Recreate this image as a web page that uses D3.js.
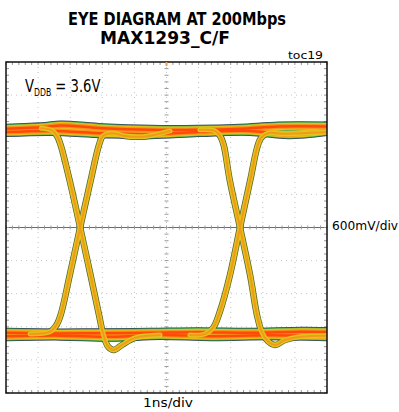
<!DOCTYPE html>
<html>
<head>
<meta charset="utf-8">
<script src="https://cdn.jsdelivr.net/npm/d3@7"></script>
<style>
  body { margin: 0; background: #fff; }
  svg { display: block; }
  .narrow { font-family: "Liberation Sans Narrow", "Arial Narrow", "DejaVu Sans Condensed", "Liberation Sans", sans-serif; }
</style>
</head>
<body>
<div id="chart"></div>
<script>
// time axis in ns, voltage axis in mV
const timeTicks = d3.range(0, 11);
const voltTicks = d3.range(-3000, 3001, 600);

// persistent traces: [ns, mV]
const highA = [[0, 1790], [1.2, 1820], [1.7, 1850], [3.0, 1800], [4.5, 1770], [6.0, 1770], [7.3, 1790], [8.5, 1830], [10, 1830]];
const highB = [[0, 1730], [1.4, 1750], [3.0, 1710], [4.5, 1690], [6.0, 1730], [7.6, 1750], [8.8, 1690], [10, 1750]];
const lowA = [[0, -1910], [1.7, -1920], [3.0, -1915], [4.5, -1910], [6.0, -1900], [7.6, -1910], [9.2, -1890], [10, -1895]];
const lowB = [[0, -1970], [1.7, -1960], [3.3, -1980], [4.8, -1950], [6.4, -1970], [8.2, -1955], [10, -1970]];

const fall1 = [[1.1, 1800], [1.43, 1760], [1.59, 1660], [1.7, 1500], [1.98, 860], [2.31, 0], [2.64, -880], [2.9, -1590], [3.02, -1910], [3.18, -2160], [3.36, -2220], [3.61, -2130], [4.02, -2000], [4.8, -1950]];
const rise1 = [[0.75, -1930], [1.37, -1890], [1.56, -1780], [1.7, -1590], [1.98, -880], [2.31, 0], [2.64, 860], [2.9, 1500], [3.02, 1660], [3.3, 1710], [3.71, 1660], [4.33, 1650], [5.11, 1750]];
const fall2 = [[6.04, 1770], [6.51, 1750], [6.67, 1660], [6.78, 1500], [6.97, 860], [7.29, 0], [7.61, -880], [7.82, -1590], [7.98, -1910], [8.16, -2060], [8.38, -2130], [8.69, -2040], [9.16, -1980], [10, -1960]];
const rise2 = [[5.73, -1950], [6.2, -1930], [6.45, -1820], [6.66, -1530], [6.97, -880], [7.29, 0], [7.61, 860], [7.82, 1440], [7.94, 1620], [8.16, 1710], [8.69, 1700], [10, 1730]];

const levelTraces = [highA, highB, lowA, lowB];
const edgeTraces = [fall1, rise1, fall2, rise2];

const width = 399, height = 412;
const frame = { left: 6, right: 327, top: 62, bottom: 393 };

const svg = d3.select("#chart").append("svg")
  .attr("width", width)
  .attr("height", height);

svg.append("defs").append("clipPath").attr("id", "plotClip")
  .append("rect")
  .attr("x", frame.left).attr("y", frame.top)
  .attr("width", frame.right - frame.left)
  .attr("height", frame.bottom - frame.top);

const x = d3.scaleLinear().domain([0, 10]).range([frame.left, frame.right]);
const y = d3.scaleLinear().domain([-3000, 3000]).range([frame.bottom, frame.top]);

// dotted graticule
const grid = svg.append("g").attr("class", "grid");
grid.selectAll(".vgrid")
  .data(timeTicks.slice(1, -1))
  .enter().append("line")
  .attr("x1", d => x(d)).attr("x2", d => x(d))
  .attr("y1", frame.top).attr("y2", frame.bottom)
  .style("stroke", "#c4c4c4")
  .style("stroke-dasharray", "1,4");
grid.selectAll(".hgrid")
  .data(voltTicks.slice(1, -1).filter(d => d !== 0))
  .enter().append("line")
  .attr("x1", frame.left).attr("x2", frame.right)
  .attr("y1", d => y(d)).attr("y2", d => y(d))
  .style("stroke", "#c4c4c4")
  .style("stroke-dasharray", "1,4");

// center line
grid.append("line")
  .attr("x1", frame.left).attr("x2", frame.right)
  .attr("y1", y(0)).attr("y2", y(0))
  .style("stroke", "#6b6b6b")
  .style("stroke-width", 1.2);

// minor ticks (5 per division)
const minorT = d3.range(0, 10.001, 0.2);
const minorV = d3.range(-3000, 3000.1, 120);
const ticks = svg.append("g").attr("class", "minor");
ticks.selectAll(".tv").data(minorV).enter().append("line")
  .attr("x1", x(5) - 2).attr("x2", x(5) + 2)
  .attr("y1", d => y(d)).attr("y2", d => y(d))
  .style("stroke", "#9a9a9a");
ticks.selectAll(".th").data(minorT).enter().append("line")
  .attr("x1", d => x(d)).attr("x2", d => x(d))
  .attr("y1", y(0) - 2).attr("y2", y(0) + 2)
  .style("stroke", "#9a9a9a");
ticks.selectAll(".tl").data(minorV).enter().append("line")
  .attr("x1", frame.left).attr("x2", frame.left + 3)
  .attr("y1", d => y(d)).attr("y2", d => y(d))
  .style("stroke", "#9a9a9a");
ticks.selectAll(".tr").data(minorV).enter().append("line")
  .attr("x1", frame.right - 3).attr("x2", frame.right)
  .attr("y1", d => y(d)).attr("y2", d => y(d))
  .style("stroke", "#9a9a9a");
ticks.selectAll(".tt").data(minorT).enter().append("line")
  .attr("x1", d => x(d)).attr("x2", d => x(d))
  .attr("y1", frame.top).attr("y2", frame.top + 3)
  .style("stroke", "#9a9a9a");
ticks.selectAll(".tb").data(minorT).enter().append("line")
  .attr("x1", d => x(d)).attr("x2", d => x(d))
  .attr("y1", frame.bottom - 3).attr("y2", frame.bottom)
  .style("stroke", "#9a9a9a");

// waveform persistence, drawn as stacked strokes
const line = d3.line()
  .x(d => x(d[0]))
  .y(d => y(d[1]))
  .curve(d3.curveCatmullRom.alpha(0.5));

const levelLayers = [
  { color: "#2a3f55", w: 10 },
  { color: "#4dae4a", w: 8.5 },
  { color: "#e6c417", w: 7 },
  { color: "#f7941d", w: 5 },
  { color: "#ff4a0a", w: 2.5 }
];
const edgeLayers = [
  { color: "#55662c", w: 6.5 },
  { color: "#e2c21c", w: 5 },
  { color: "#f29a18", w: 2 }
];

const traces = svg.append("g").attr("class", "traces")
  .attr("clip-path", "url(#plotClip)");
edgeLayers.slice(0, 1).forEach(l => {
  traces.selectAll(null).data(edgeTraces).enter().append("path")
    .attr("d", line).style("fill", "none")
    .style("stroke", l.color).style("stroke-width", l.w)
    .style("stroke-linecap", "round");
});
levelLayers.forEach(l => {
  traces.selectAll(null).data(levelTraces).enter().append("path")
    .attr("d", line).style("fill", "none")
    .style("stroke", l.color).style("stroke-width", l.w)
    .style("stroke-linecap", "round");
});
edgeLayers.slice(1).forEach(l => {
  traces.selectAll(null).data(edgeTraces).enter().append("path")
    .attr("d", line).style("fill", "none")
    .style("stroke", l.color).style("stroke-width", l.w)
    .style("stroke-linecap", "round");
});

// frame
svg.append("rect")
  .attr("x", frame.left).attr("y", frame.top)
  .attr("width", frame.right - frame.left)
  .attr("height", frame.bottom - frame.top)
  .style("fill", "none")
  .style("stroke", "#111")
  .style("stroke-width", 1.5);

// trigger mark
svg.append("rect")
  .attr("x", x(5) - 1).attr("y", frame.top)
  .attr("width", 2).attr("height", 4)
  .style("fill", "#f0a040");

// text
svg.append("text").attr("class", "narrow")
  .attr("x", 68).attr("y", 25)
  .attr("textLength", 218).attr("lengthAdjust", "spacingAndGlyphs")
  .style("font-size", "17px").style("font-weight", "bold")
  .text("EYE DIAGRAM AT 200Mbps");
svg.append("text").attr("class", "narrow")
  .attr("x", 100).attr("y", 44)
  .attr("textLength", 130).attr("lengthAdjust", "spacingAndGlyphs")
  .style("font-size", "17px").style("font-weight", "bold")
  .text("MAX1293_C/F");
svg.append("text").attr("class", "narrow")
  .attr("x", 288).attr("y", 59)
  .attr("textLength", 35).attr("lengthAdjust", "spacingAndGlyphs")
  .style("font-size", "11px")
  .text("toc19");

const vddb = svg.append("text").attr("class", "narrow")
  .attr("transform", "translate(25,92) scale(0.86,1)")
  .style("font-size", "17px");
vddb.append("tspan").text("V");
vddb.append("tspan").attr("dy", 4).style("font-size", "10px").text("DDB");
vddb.append("tspan").attr("dy", -4).text(" = 3.6V");

svg.append("text").attr("class", "narrow")
  .attr("x", 332).attr("y", 230)
  .attr("textLength", 66).attr("lengthAdjust", "spacingAndGlyphs")
  .style("font-size", "13px")
  .text("600mV/div");
svg.append("text").attr("class", "narrow")
  .attr("x", 143).attr("y", 407)
  .attr("textLength", 50).attr("lengthAdjust", "spacingAndGlyphs")
  .style("font-size", "13px")
  .text("1ns/div");
</script>
</body>
</html>
